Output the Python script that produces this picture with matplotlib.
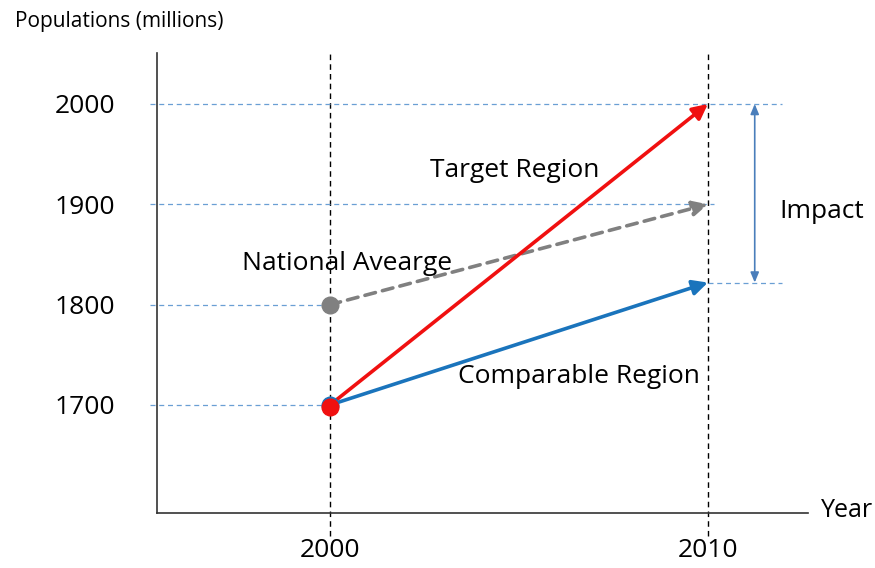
import matplotlib.pyplot as plt

plt.rcParams['font.family'] = ['Open Sans', 'DejaVu Sans']

# data
years = [2000, 2010]
y_ticks = [1700, 1800, 1900, 2000]
target = [1700, 2000]
comparable = [1700, 1822]
national = [1800, 1900]

fig = plt.figure(figsize=(8.75, 5.68), dpi=100)
# axes box: left spine x=157, bottom y=513, top y=53, right x=808 (pixels)
ax = fig.add_axes([157 / 875, 1 - 513 / 568, (808 - 157) / 875, (513 - 53) / 568])
ax.set_xlim(1995.42, 2012.65)
ax.set_ylim(1592.3, 2050.8)
for s in ['top', 'right']:
    ax.spines[s].set_visible(False)
for s in ['left', 'bottom']:
    ax.spines[s].set_color('#333333')
    ax.spines[s].set_linewidth(1.2)

ax.set_xticks(years)
ax.set_xticklabels([str(y) for y in years], fontsize=19)
ax.set_yticks(y_ticks)
ax.set_yticklabels([str(v) for v in y_ticks], fontsize=19)
ax.tick_params(length=0)
ax.tick_params(axis='x', pad=18)
ax.tick_params(axis='y', pad=30)

# vertical dashed guides
for yr in years:
    ax.plot([yr, yr], [1569, 2052], color='black', ls=(0, (4, 3)), lw=1, clip_on=False, zorder=1)

# horizontal dashed guides
guide_col = '#6a9fd4'
x0 = 1995.24
ax.plot([x0, 2011.97], [2000, 2000], color=guide_col, ls=(0, (4, 3)), lw=0.9, clip_on=False, zorder=1)
ax.plot([x0, 2010.15], [1900, 1900], color=guide_col, ls=(0, (4, 3)), lw=0.9, clip_on=False, zorder=1)
ax.plot([x0, 2000], [1800, 1800], color=guide_col, ls=(0, (4, 3)), lw=0.9, clip_on=False, zorder=1)
ax.plot([x0, 2000], [1700, 1700], color=guide_col, ls=(0, (4, 3)), lw=0.9, clip_on=False, zorder=1)
ax.plot([2010, 2011.97], [comparable[1], comparable[1]], color=guide_col, ls=(0, (4, 3)), lw=0.9, clip_on=False, zorder=1)

# arrows
def arrow(ys, color, ls='-'):
    ax.annotate('', xy=(years[1], ys[1]), xytext=(years[0], ys[0]),
                arrowprops=dict(arrowstyle='-|>,head_length=0.9,head_width=0.45', color=color,
                                lw=2.6, linestyle=ls, shrinkA=0, shrinkB=0), zorder=3)

arrow(national, '#808080', ls=(0, (3, 2)))
arrow(comparable, '#1a74bc')
arrow(target, '#f01010')

ax.plot(years[0], national[0], 'o', color='#808080', ms=12, zorder=4)
ax.plot(years[0], comparable[0], 'o', color='#1a74bc', ms=12, zorder=4)
ax.plot(years[0], target[0] - 2, 'o', color='#f01010', ms=12, zorder=5)

# impact double arrow
ax.annotate('', xy=(2011.24, target[1]), xytext=(2011.24, comparable[1]),
            arrowprops=dict(arrowstyle='<|-|>,head_length=0.6,head_width=0.25', color='#4a7ebb',
                            lw=1.2, shrinkA=0, shrinkB=0))

ax.text(2004.9, 1934, 'Target Region', fontsize=19, ha='center', va='center')
ax.text(2000.45, 1841, 'National Avearge', fontsize=19, ha='center', va='center')
ax.text(2006.6, 1728, 'Comparable Region', fontsize=19, ha='center', va='center')
ax.text(2011.88, 1893, 'Impact', fontsize=19, ha='left', va='center')
ax.text(2013.0, 1595, 'Year', fontsize=18, ha='left', va='center', clip_on=False)
fig.text(15 / 875, 1 - 22 / 568, 'Populations (millions)', fontsize=15, ha='left', va='center')

fig.savefig('out.png', dpi=100)
